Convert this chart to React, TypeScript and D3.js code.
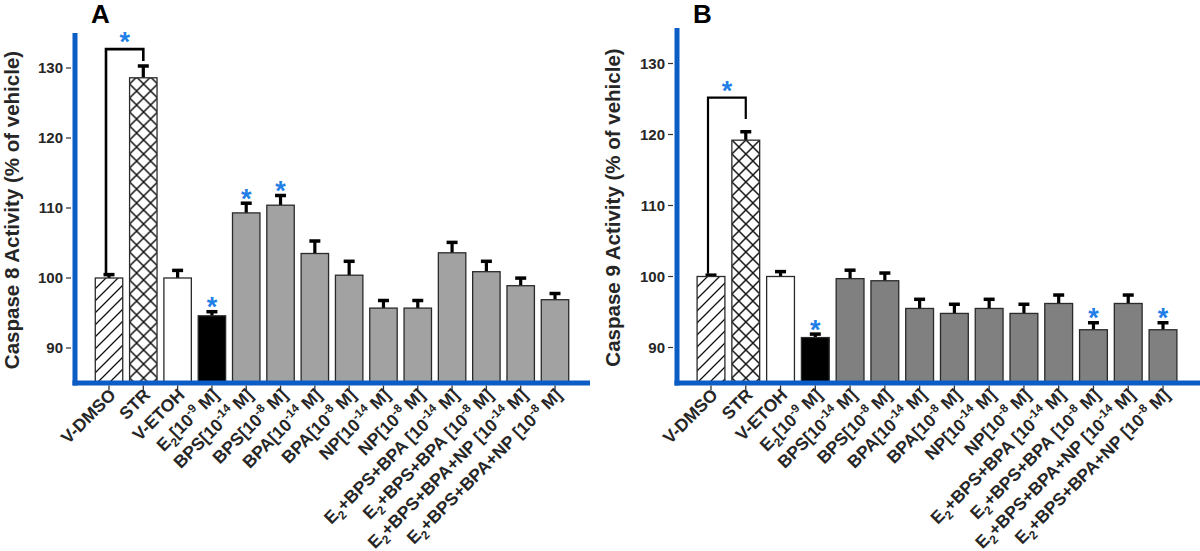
import React from "react";
import * as d3 from "d3";

const categories = [
  "V-DMSO",
  "STR",
  "V-ETOH",
  "E_{2}[10^{-9} M]",
  "BPS[10^{-14} M]",
  "BPS[10^{-8} M]",
  "BPA[10^{-14} M]",
  "BPA[10^{-8} M]",
  "NP[10^{-14} M]",
  "NP[10^{-8} M]",
  "E_{2}+BPS+BPA [10^{-14} M]",
  "E_{2}+BPS+BPA [10^{-8} M]",
  "E_{2}+BPS+BPA+NP [10^{-14} M]",
  "E_{2}+BPS+BPA+NP [10^{-8} M]",
];
const fillKinds = ["hatch", "cross", "white", "black", "gray", "gray", "gray", "gray", "gray", "gray", "gray", "gray", "gray", "gray"];

const caspase8Mean = [100, 128.6, 100, 94.6, 109.3, 110.4, 103.5, 100.4, 95.7, 95.7, 103.6, 100.9, 98.9, 96.9];
const caspase8Err = [0.7, 1.9, 1.3, 0.8, 1.6, 1.6, 2.0, 2.2, 1.3, 1.3, 1.7, 1.7, 1.3, 1.1];
const caspase8Stars = [3, 4, 5];
const caspase8Bracket = [0, 1, 132.7, 131.0]; // from, to, top value, right end value

const caspase9Mean = [100, 119.2, 100, 91.4, 99.7, 99.4, 95.5, 94.8, 95.5, 94.8, 96.2, 92.5, 96.2, 92.5];
const caspase9Err = [0.4, 1.4, 0.9, 0.7, 1.4, 1.3, 1.5, 1.5, 1.5, 1.5, 1.4, 1.2, 1.4, 1.2];
const caspase9Stars = [3, 11, 13];
const caspase9Bracket = [0, 1, 125.2, 122.2];

const yTicks = [90, 100, 110, 120, 130];
const yDomain = [85, 135];

const FONT = "Liberation Sans, Arial, Helvetica, sans-serif";
const AXIS_BLUE = "#0b5cc4";
const STAR_BLUE = "#1f7fe6";
const TEXT = "#262626";
const LABEL_SIZE = 17.5;

function RichLabel({ s, fontSize }: { s: string; fontSize: number }) {
  const parts = s.split(/(_\{[^}]*\}|\^\{[^}]*\})/).filter((p) => p.length > 0);
  const out: any[] = [];
  let shift = 0;
  const sub = fontSize * 0.28;
  const sup = -fontSize * 0.4;
  parts.forEach((p, i) => {
    if (p.startsWith("_{")) {
      const t = p.slice(2, -1);
      out.push(
        <tspan key={i} dy={sub - shift} fontSize={fontSize * 0.68}>
          {t}
        </tspan>
      );
      shift = sub;
    } else if (p.startsWith("^{")) {
      const t = p.slice(2, -1);
      out.push(
        <tspan key={i} dy={sup - shift} fontSize={fontSize * 0.68}>
          {t}
        </tspan>
      );
      shift = sup;
    } else {
      out.push(
        <tspan key={i} dy={-shift}>
          {p}
        </tspan>
      );
      shift = 0;
    }
  });
  return <>{out}</>;
}

type PanelProps = {
  id: string;
  letter: string;
  letterX: number;
  ylabel: string;
  ylabelX: number;
  axisX: number;
  axisEnd: number;
  top: number;
  bottom: number;
  firstCenter: number;
  lastCenter: number;
  gray: string;
  means: number[];
  errs: number[];
  stars: number[];
  bracket: number[];
  bracketWidth: number;
};

function Panel(p: PanelProps) {
  const step = (p.lastCenter - p.firstCenter) / (categories.length - 1);
  const x = d3
    .scaleBand<string>()
    .domain(categories)
    .range([p.firstCenter - step / 2, p.lastCenter + step / 2])
    .paddingInner(0.2)
    .paddingOuter(0.1);
  const y = d3.scaleLinear().domain(yDomain).range([p.bottom, p.top]);
  const bw = x.bandwidth();
  const fillFor = (k: string) =>
    k === "hatch" ? `url(#hatch-${p.id})` : k === "cross" ? `url(#cross-${p.id})` : k === "white" ? "#ffffff" : k === "black" ? "#000000" : p.gray;

  const [bFrom, bTo, bTop, bEnd] = p.bracket;
  const bx1 = (x(categories[bFrom]) as number) + bw / 2 - 3;
  const bx2 = (x(categories[bTo]) as number) + bw / 2;
  const bLeftBottom = y(p.means[bFrom] + p.errs[bFrom]);
  const bracketPath = d3.path();
  bracketPath.moveTo(bx1, bLeftBottom);
  bracketPath.lineTo(bx1, y(bTop));
  bracketPath.lineTo(bx2, y(bTop));
  bracketPath.lineTo(bx2, y(bEnd));

  return (
    <g>
      <defs>
        <pattern id={`hatch-${p.id}`} patternUnits="userSpaceOnUse" width={12} height={12}>
          <rect width={12} height={12} fill="#fff" />
          <path d="M-3,3 L3,-3 M0,12 L12,0 M9,15 L15,9" stroke="#111" strokeWidth={1.3} />
        </pattern>
        <pattern id={`cross-${p.id}`} patternUnits="userSpaceOnUse" width={14} height={14} x={x(categories[1])} y={0}>
          <rect width={14} height={14} fill="#fff" />
          <path d="M0,0 L14,14 M0,14 L14,0" stroke="#111" strokeWidth={1.5} />
        </pattern>
      </defs>

      {/* panel letter */}
      <text x={p.letterX} y={23} fontFamily={FONT} fontWeight="bold" fontSize={26} fill="#000">
        {p.letter}
      </text>

      {/* y label */}
      <text
        transform={`translate(${p.ylabelX},${(p.top + p.bottom) / 2 + 2}) rotate(-90)`}
        textAnchor="middle"
        fontFamily={FONT}
        fontWeight="bold"
        fontSize={20.5}
        fill={TEXT}
      >
        {p.ylabel}
      </text>

      {/* y ticks */}
      {yTicks.map((t) => (
        <g key={t}>
          <line x1={p.axisX - 9} x2={p.axisX - 4} y1={y(t)} y2={y(t)} stroke="#333" strokeWidth={1.2} />
          <text x={p.axisX - 12} y={y(t) + 5} textAnchor="end" fontFamily={FONT} fontWeight="bold" fontSize={15} fill={TEXT}>
            {t}
          </text>
        </g>
      ))}

      {/* bars */}
      {categories.map((c, i) => {
        const x0 = x(c) as number;
        const yt = y(p.means[i]);
        const ye = y(p.means[i] + p.errs[i]);
        const cx = x0 + bw / 2;
        return (
          <g key={c}>
            <line x1={cx} x2={cx} y1={yt} y2={ye + 1} stroke="#000" strokeWidth={3.2} />
            <line x1={cx - 5.5} x2={cx + 5.5} y1={ye + 1.5} y2={ye + 1.5} stroke="#000" strokeWidth={3.5} />
            <rect x={x0} y={yt} width={bw} height={p.bottom - yt} fill={fillFor(fillKinds[i])} stroke="#2a2a2a" strokeWidth={1.3} />
          </g>
        );
      })}

      {/* stars */}
      {p.stars.map((i) => {
        const cx = (x(categories[i]) as number) + bw / 2;
        const ye = y(p.means[i] + p.errs[i]);
        return (
          <text key={i} x={cx} y={ye + 6} textAnchor="middle" fontFamily={FONT} fontWeight="bold" fontSize={27} fill={STAR_BLUE}>
            *
          </text>
        );
      })}

      {/* bracket */}
      <path d={bracketPath.toString()} fill="none" stroke="#000" strokeWidth={p.bracketWidth} />
      <text x={(bx1 + bx2) / 2} y={y(bTop) + 2} textAnchor="middle" fontFamily={FONT} fontWeight="bold" fontSize={27} fill={STAR_BLUE}>
        *
      </text>

      {/* axes */}
      <line x1={p.axisX} x2={p.axisX} y1={p.top} y2={p.bottom + 2.5} stroke={AXIS_BLUE} strokeWidth={5} />
      <line x1={p.axisX - 2.5} x2={p.axisEnd} y1={p.bottom} y2={p.bottom} stroke={AXIS_BLUE} strokeWidth={5} />

      {/* x ticks & labels */}
      {categories.map((c) => {
        const cx = (x(c) as number) + bw / 2;
        return (
          <g key={c}>
            <line x1={cx} x2={cx} y1={p.bottom + 2.5} y2={p.bottom + 7} stroke="#333" strokeWidth={1.3} />
            <text
              transform={`translate(${cx + 8},${p.bottom + 13}) rotate(-45)`}
              textAnchor="end"
              fontFamily={FONT}
              fontWeight="bold"
              fontSize={LABEL_SIZE}
              fill={TEXT}
            >
              <RichLabel s={c} fontSize={LABEL_SIZE} />
            </text>
          </g>
        );
      })}
    </g>
  );
}

export default function App() {
  return (
    <svg width={1200} height={551} style={{ position: "absolute", left: 0, top: 0, background: "#fff" }}>
      <rect width={1200} height={551} fill="#fff" />
      <Panel
        id="a"
        letter="A"
        letterX={91}
        ylabel="Caspase 8 Activity (% of vehicle)"
        ylabelX={19}
        axisX={75}
        axisEnd={590}
        top={33}
        bottom={383}
        firstCenter={109}
        lastCenter={555}
        gray="#a2a2a2"
        means={caspase8Mean}
        errs={caspase8Err}
        stars={caspase8Stars}
        bracket={caspase8Bracket}
        bracketWidth={2.6}
      />
      <Panel
        id="b"
        letter="B"
        letterX={693}
        ylabel="Caspase 9 Activity (% of vehicle)"
        ylabelX={620}
        axisX={677}
        axisEnd={1200}
        top={28}
        bottom={383}
        firstCenter={711}
        lastCenter={1163}
        gray="#808080"
        means={caspase9Mean}
        errs={caspase9Err}
        stars={caspase9Stars}
        bracket={caspase9Bracket}
        bracketWidth={2.2}
      />
    </svg>
  );
}
